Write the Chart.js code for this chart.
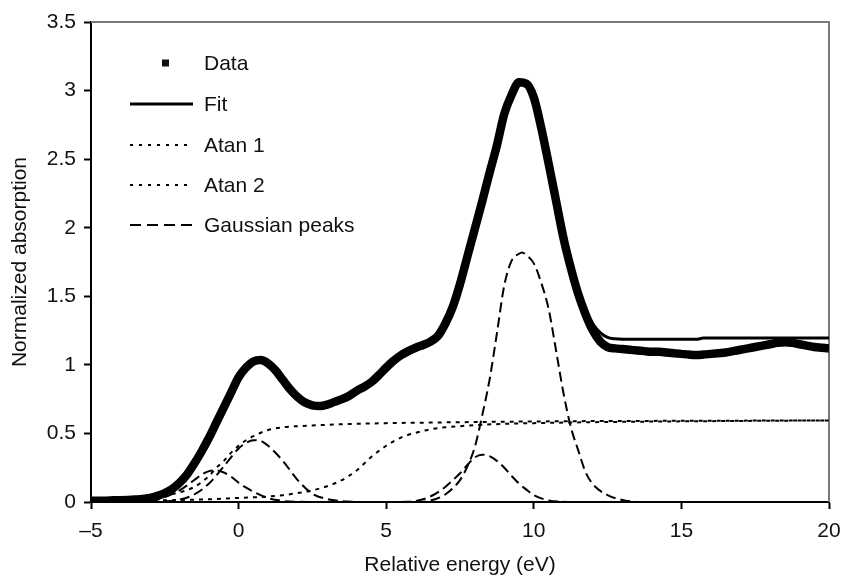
<!DOCTYPE html>
<html>
<head>
<meta charset="utf-8">
<script src="https://cdn.jsdelivr.net/npm/chart.js@4/dist/chart.umd.min.js"></script>
<style>
html,body{margin:0;padding:0;background:#fff;}
#wrap{width:841px;height:582px;}
</style>
</head>
<body>
<div id="wrap"><canvas id="c" width="841" height="582"></canvas></div>
<script>
// Energy grid (eV) shared by Data and Fit
const energy = [
 -5,-4.75,-4.5,-4.25,-4,-3.75,-3.5,-3.25,-3,-2.75,-2.5,-2.25,-2,-1.75,-1.5,-1.25,-1,-0.75,-0.5,-0.25,
 0,0.25,0.5,0.75,1,1.25,1.5,1.75,2,2.25,2.5,2.75,3,3.25,3.5,3.75,4,4.25,4.5,4.75,
 5,5.25,5.5,5.75,6,6.25,6.5,6.75,7,7.25,7.5,7.75,8,8.25,8.5,8.75,9,9.25,9.5,9.75,
 10,10.25,10.5,10.75,11,11.25,11.5,11.75,12,12.25,12.5,12.75,13,13.25,13.5,13.75,14,14.25,14.5,14.75,
 15,15.25,15.5,15.75,16,16.25,16.5,16.75,17,17.25,17.5,17.75,18,18.25,18.5,18.75,19,19.25,19.5,19.75,20
];
const dataAbs = [
 0.01,0.01,0.01,0.012,0.013,0.015,0.018,0.022,0.03,0.045,0.065,0.095,0.14,0.2,0.28,0.37,0.47,0.58,0.69,0.8,
 0.91,0.98,1.025,1.035,1.01,0.96,0.89,0.82,0.765,0.725,0.705,0.7,0.71,0.73,0.75,0.775,0.81,0.84,0.875,0.925,
 0.98,1.03,1.07,1.1,1.125,1.145,1.17,1.21,1.3,1.42,1.59,1.79,1.99,2.19,2.4,2.6,2.83,2.97,3.06,3.05,
 2.95,2.73,2.47,2.2,1.93,1.71,1.52,1.37,1.25,1.17,1.13,1.12,1.115,1.11,1.105,1.1,1.095,1.095,1.09,1.085,
 1.08,1.075,1.072,1.075,1.08,1.085,1.09,1.1,1.11,1.12,1.13,1.14,1.15,1.16,1.165,1.16,1.15,1.14,1.13,1.125,1.12
];
const fitAbs = [
 0.01,0.01,0.011,0.012,0.013,0.015,0.018,0.023,0.031,0.046,0.066,0.096,0.14,0.2,0.28,0.37,0.47,0.58,0.69,0.8,
 0.91,0.98,1.025,1.035,1.01,0.96,0.89,0.82,0.765,0.725,0.705,0.7,0.71,0.73,0.75,0.775,0.81,0.84,0.875,0.925,
 0.98,1.03,1.07,1.1,1.125,1.145,1.17,1.21,1.3,1.42,1.59,1.79,1.99,2.19,2.4,2.6,2.83,2.97,3.06,3.05,
 2.95,2.73,2.47,2.2,1.94,1.73,1.54,1.4,1.3,1.235,1.2,1.19,1.187,1.187,1.187,1.187,1.187,1.187,1.187,1.187,
 1.187,1.187,1.187,1.195,1.195,1.195,1.195,1.195,1.195,1.195,1.195,1.195,1.195,1.195,1.195,1.195,1.195,1.195,1.195,1.195,1.195
];

// Arctangent steps
const atanEnergy = [-5,-4,-3,-2.5,-2,-1.5,-1,-0.75,-0.5,-0.25,0,0.25,0.5,0.75,1,1.5,2,2.5,3,4,5,6,8,10,12,15,20];
const atan1Abs   = [0.02,0.03,0.04,0.05,0.07,0.11,0.19,0.25,0.3,0.36,0.41,0.45,0.48,0.505,0.525,0.545,0.553,0.558,0.563,0.57,0.575,0.578,0.583,0.587,0.59,0.592,0.595];
const atan2Energy = [-5,-3,-2,-1,0,1,1.5,2,2.5,3,3.5,4,4.5,5,5.5,6,6.5,7,7.5,8,9,10,12,15,20];
const atan2Abs    = [0.005,0.01,0.015,0.02,0.03,0.04,0.05,0.065,0.085,0.115,0.16,0.23,0.33,0.41,0.47,0.505,0.53,0.545,0.553,0.56,0.57,0.575,0.582,0.588,0.595];

// Gaussian peaks
const g1Energy = [-4,-3.5,-3,-2.5,-2,-1.5,-1.25,-1,-0.75,-0.5,-0.25,0,0.5,1,1.5,2,2.5];
const g1Abs    = [0,0.003,0.013,0.035,0.085,0.16,0.2,0.225,0.23,0.215,0.185,0.14,0.075,0.028,0.008,0.002,0];
const g2Energy = [-3,-2.5,-2,-1.5,-1,-0.5,0,0.25,0.5,0.75,1,1.5,2,2.5,3,3.5,4];
const g2Abs    = [0.001,0.004,0.017,0.055,0.135,0.26,0.39,0.43,0.45,0.445,0.41,0.3,0.16,0.06,0.022,0.006,0.001];
const g3Energy = [5.5,6,6.5,7,7.5,7.75,8,8.25,8.5,8.75,9,9.25,9.5,9.75,10,10.5,11,11.5];
const g3Abs    = [0,0.008,0.04,0.11,0.21,0.27,0.325,0.345,0.335,0.3,0.25,0.19,0.135,0.09,0.05,0.012,0.002,0];
const g4Energy = [6,6.5,7,7.5,7.75,8,8.25,8.5,8.75,9,9.25,9.5,9.6,9.75,10,10.25,10.5,10.75,11,11.25,11.5,11.75,12,12.5,13,13.5];
const g4Abs    = [0,0.01,0.055,0.16,0.26,0.4,0.63,0.89,1.23,1.58,1.76,1.81,1.82,1.8,1.74,1.6,1.41,1.11,0.8,0.55,0.38,0.22,0.13,0.05,0.015,0];

const xTicks = [-5,0,5,10,15,20];
const yTicks = [0,0.5,1,1.5,2,2.5,3,3.5];
const legendLabels = ['Data','Fit','Atan 1','Atan 2','Gaussian peaks'];

const FONT = '"Liberation Sans", Arial, Helvetica, sans-serif';
const pts = (xs, ys) => xs.map((x, i) => ({x: x, y: ys[i]}));

function lineDS(label, xs, ys, width, dash) {
  return {
    label: label, data: pts(xs, ys), showLine: true, borderColor: '#000', backgroundColor: '#000',
    borderWidth: width, borderDash: dash, pointRadius: 0, pointHoverRadius: 0,
    cubicInterpolationMode: 'monotone', fill: false
  };
}

const datasets = [
  lineDS('Fit', energy, fitAbs, 3, []),
  lineDS('Data', energy, dataAbs, 8.5, []),
  lineDS('Atan 1', atanEnergy, atan1Abs, 2, [4,5]),
  lineDS('Atan 2', atan2Energy, atan2Abs, 2, [4,5]),
  lineDS('Gaussian peaks', g1Energy, g1Abs, 2, [10,5]),
  lineDS('Gaussian peaks', g2Energy, g2Abs, 2, [10,5]),
  lineDS('Gaussian peaks', g3Energy, g3Abs, 2, [10,5]),
  lineDS('Gaussian peaks', g4Energy, g4Abs, 2, [10,5])
];

const framePlugin = {
  id: 'frame',
  beforeDatasetsDraw(chart) {
    const {ctx, chartArea: a} = chart;
    ctx.save();
    ctx.strokeStyle = '#7a7a7a';
    ctx.lineWidth = 2;
    ctx.beginPath();
    ctx.moveTo(a.left, a.top);
    ctx.lineTo(a.right, a.top);
    ctx.lineTo(a.right, a.bottom);
    ctx.stroke();
    ctx.restore();
  }
};

const legendPlugin = {
  id: 'customLegend',
  afterDraw(chart) {
    const ctx = chart.ctx;
    const rows = [63, 104, 145, 185, 225];
    const x0 = 130, x1 = 193, tx = 204;
    const styles = [
      {type: 'square'},
      {type: 'line', w: 3, dash: []},
      {type: 'line', w: 2, dash: [3,6]},
      {type: 'line', w: 2, dash: [3,6]},
      {type: 'line', w: 2, dash: [11,6]}
    ];
    ctx.save();
    ctx.font = '21px ' + FONT;
    ctx.textBaseline = 'middle';
    ctx.fillStyle = '#111';
    ctx.strokeStyle = '#000';
    legendLabels.forEach((lab, i) => {
      const y = rows[i];
      const s = styles[i];
      if (s.type === 'square') {
        ctx.fillRect(162, y - 3.5, 7, 7);
      } else {
        ctx.lineWidth = s.w;
        ctx.setLineDash(s.dash);
        ctx.beginPath();
        ctx.moveTo(x0, y);
        ctx.lineTo(x1, y);
        ctx.stroke();
        ctx.setLineDash([]);
      }
      ctx.fillText(lab, tx, y + 1);
    });
    ctx.restore();
  }
};

new Chart(document.getElementById('c'), {
  type: 'scatter',
  data: {datasets: datasets},
  options: {
    responsive: false,
    devicePixelRatio: 1,
    animation: false,
    events: [],
    layout: {padding: {top: 22, right: 12, left: 0, bottom: 0}},
    plugins: {legend: {display: false}, tooltip: {enabled: false}},
    scales: {
      x: {
        type: 'linear', min: -5, max: 20,
        afterFit: s => { s.height = 80; s.paddingLeft = 0; s.paddingRight = 0; },
        afterBuildTicks: s => { s.ticks = xTicks.map(v => ({value: v})); },
        ticks: {
          color: '#111', font: {family: FONT, size: 21}, padding: 10, maxRotation: 0,
          callback: v => (v < 0 ? '\u2013' + Math.abs(v) : String(v))
        },
        grid: {drawOnChartArea: false, drawTicks: true, tickLength: 7, tickColor: '#000', tickWidth: 2},
        border: {display: true, color: '#000', width: 2},
        title: {display: true, text: 'Relative energy (eV)', color: '#111',
                font: {family: FONT, size: 21}, padding: {top: 0, bottom: 4}}
      },
      y: {
        type: 'linear', min: 0, max: 3.5,
        afterFit: s => { s.width = 91; s.paddingTop = 0; s.paddingBottom = 0; },
        afterBuildTicks: s => { s.ticks = yTicks.map(v => ({value: v})); },
        ticks: {color: '#111', font: {family: FONT, size: 21}, padding: 8,
                callback: v => String(v)},
        grid: {drawOnChartArea: false, drawTicks: true, tickLength: 7, tickColor: '#000', tickWidth: 2},
        border: {display: true, color: '#000', width: 2},
        title: {display: true, text: 'Normalized absorption', color: '#111',
                font: {family: FONT, size: 21}, padding: {top: 8, bottom: 0}}
      }
    }
  },
  plugins: [framePlugin, legendPlugin]
});
</script>
</body>
</html>
